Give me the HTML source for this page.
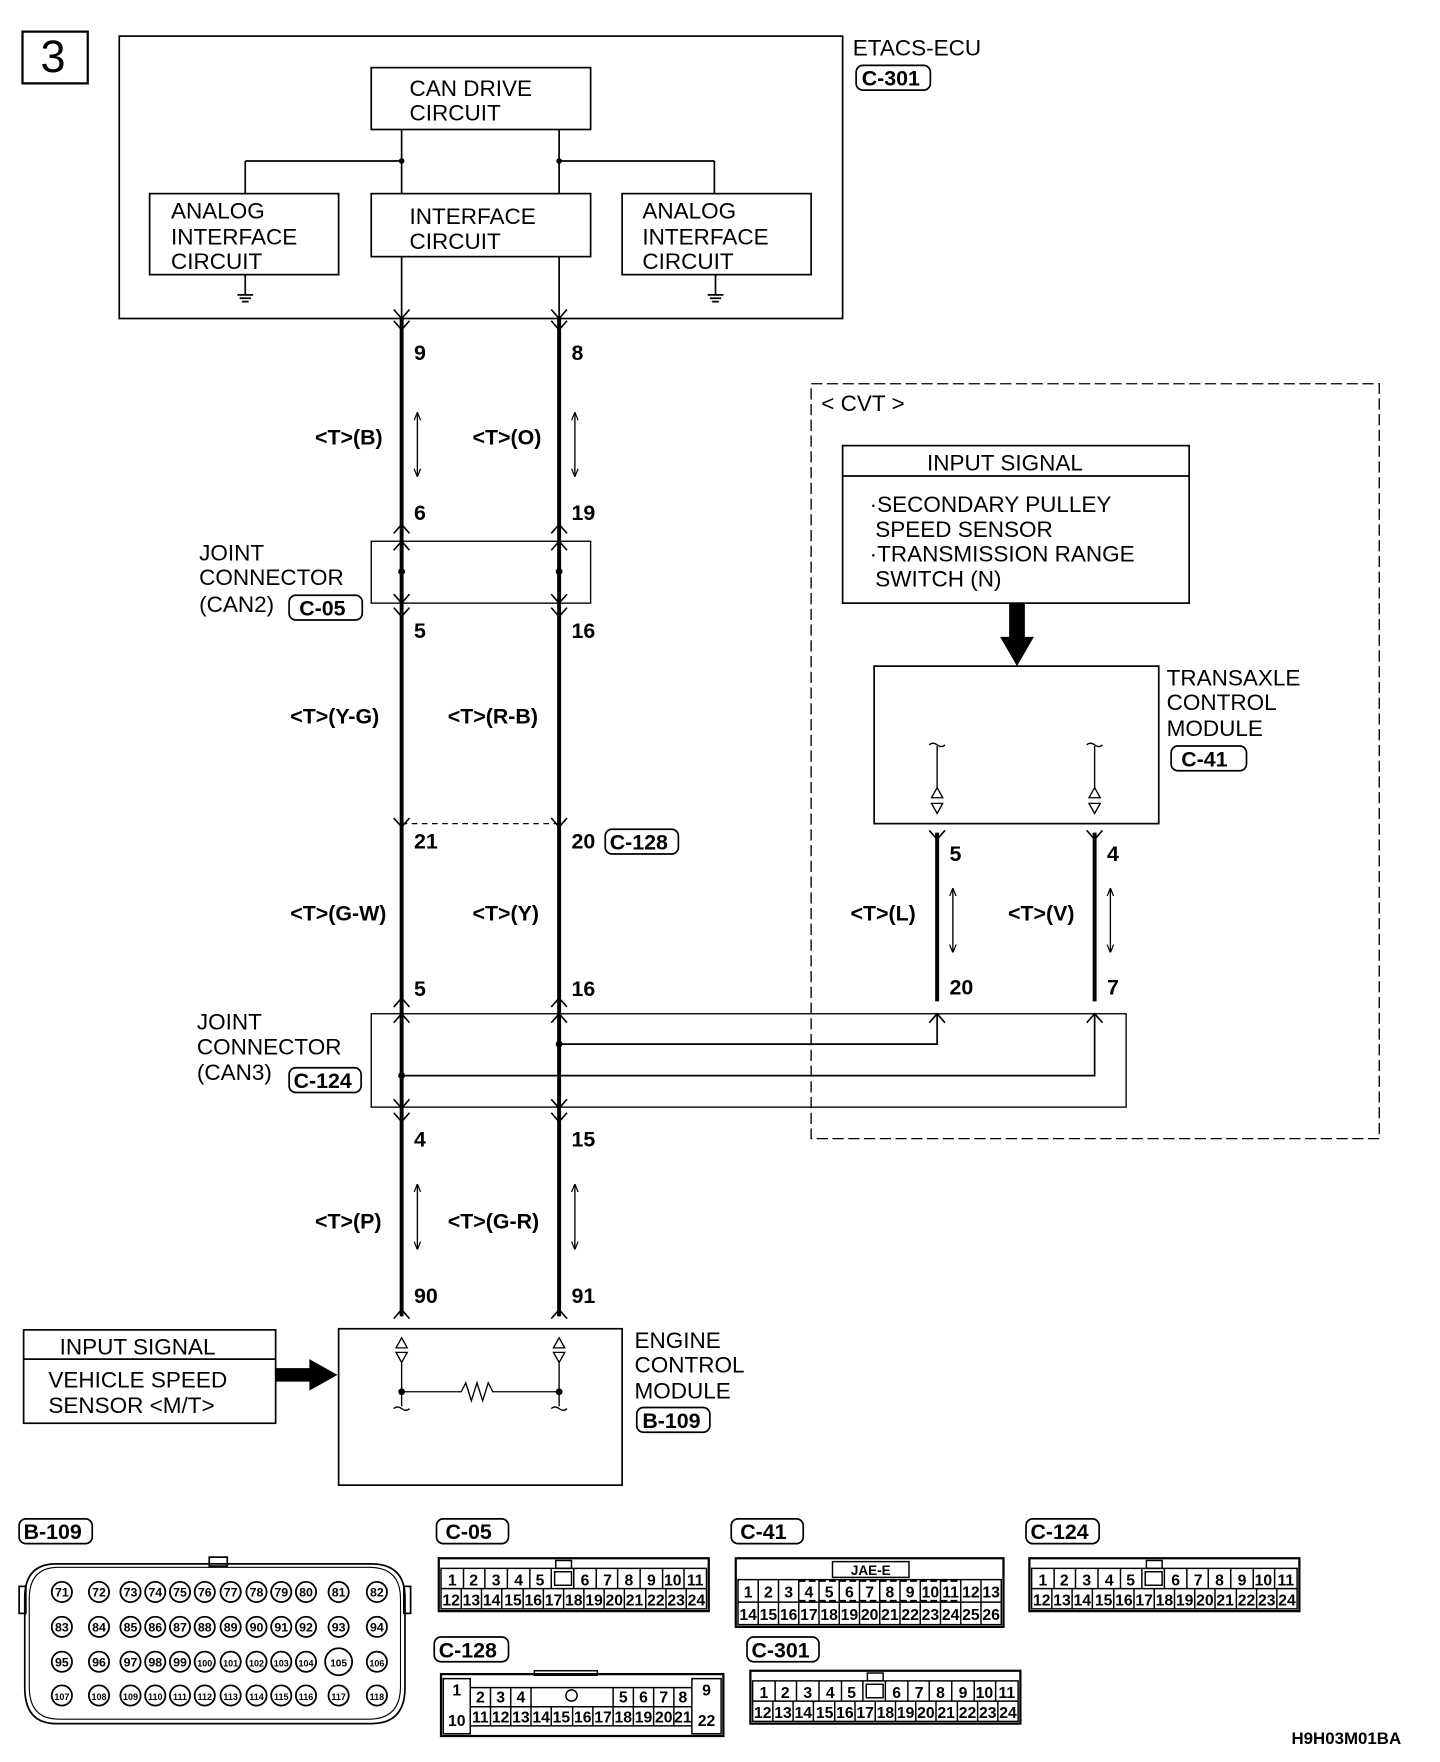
<!DOCTYPE html>
<html><head><meta charset="utf-8"><style>
html,body{margin:0;padding:0;background:#fff}
svg{display:block}
.t{font-family:"Liberation Sans",sans-serif;font-size:20px;fill:#000}
.b{font-family:"Liberation Sans Narrow","Liberation Sans",sans-serif;font-weight:bold;font-size:19px;fill:#000}
.p{font-family:"Liberation Sans Narrow","Liberation Sans",sans-serif;font-weight:bold;font-size:14px;fill:#000;text-anchor:middle}
.c{font-family:"Liberation Sans Narrow","Liberation Sans",sans-serif;font-weight:bold;font-size:12px;fill:#000;text-anchor:middle}
</style></head><body>
<svg width="1440" height="1762" viewBox="0 0 1280 1566" xmlns="http://www.w3.org/2000/svg">
<defs>
<marker id="ah" viewBox="0 0 10 10" refX="9" refY="5" markerWidth="6" markerHeight="8" orient="auto-start-reverse"><path d="M0 1 L10 5 L0 9" fill="none" stroke="#000" stroke-width="1.5"/></marker>
</defs>
<g fill="none" stroke="#000" stroke-width="1.5">
<rect x="20" y="28" width="58" height="46" stroke-width="2"/>
<rect x="106" y="32" width="643" height="251"/>
<rect x="330" y="60" width="195" height="55"/>
<rect x="133" y="172" width="168" height="72"/>
<rect x="330" y="172" width="195" height="56"/>
<rect x="553" y="172" width="168" height="72"/>
<path d="M357 115V172M497 115V172M218 143H357M497 143H635M218 143V172M635 143V172"/>
<path d="M218 244V262M211 262h14M213 265h10M215 268h6M636 244V262M629 262h14M631 265h10M633 268h6"/>
<path d="M357 228V283M497 228V283"/>
</g>
<circle cx="357" cy="143" r="2.5"/><circle cx="497" cy="143" r="2.5"/>
<text class="t" x="36" y="64" style="font-size:40px">3</text>
<text class="t" x="758" y="49">ETACS-ECU</text>
<rect x="761" y="58" width="66" height="22" rx="6" fill="none" stroke="#000" stroke-width="1.5"/>
<text class="b" x="766" y="76">C-301</text>
<text class="t" x="364" y="85">CAN DRIVE</text><text class="t" x="364" y="107">CIRCUIT</text>
<text class="t" x="152" y="194">ANALOG</text><text class="t" x="152" y="217">INTERFACE</text><text class="t" x="152" y="239">CIRCUIT</text>
<text class="t" x="364" y="199">INTERFACE</text><text class="t" x="364" y="221">CIRCUIT</text>
<text class="t" x="571" y="194">ANALOG</text><text class="t" x="571" y="217">INTERFACE</text><text class="t" x="571" y="239">CIRCUIT</text>

<!-- main wires -->
<g stroke="#000" stroke-width="3.5">
<path d="M357 283V1170M497 283V1170M833 740V890M973 740V890"/>
</g>
<!-- chevrons -->
<g fill="none" stroke="#000" stroke-width="1.5">
<path d="M350 275L357 283L364 275M350 285L357 293L364 285M490 275L497 283L504 275M490 285L497 293L504 285"/>
<path d="M350 474L357 466L364 474M350 489L357 481L364 489M490 474L497 466L504 474M490 489L497 481L504 489"/>
<path d="M350 528L357 536L364 528M350 540L357 548L364 540M490 528L497 536L504 528M490 540L497 548L504 540"/>
<path d="M350 727L357 735L364 727M490 727L497 735L504 727"/>
<path d="M350 895L357 887L364 895M350 909L357 901L364 909M490 895L497 887L504 895M490 909L497 901L504 909"/>
<path d="M350 977L357 985L364 977M350 989L357 997L364 989M490 977L497 985L504 977M490 989L497 997L504 989"/>
<path d="M350 1172L357 1164L364 1172M490 1172L497 1164L504 1172"/>
<path d="M826 738L833 746L840 738M966 738L973 746L980 738"/>
<path d="M826 909L833 901L840 909M966 909L973 901L980 909"/>
</g>
<!-- wire labels -->
<text class="b" x="368" y="320">9</text><text class="b" x="508" y="320">8</text>
<text class="b" x="280" y="395">&lt;T&gt;(B)</text><text class="b" x="420" y="395">&lt;T&gt;(O)</text>
<g stroke="#000" stroke-width="1.2" marker-start="url(#ah)" marker-end="url(#ah)">
<line x1="371" y1="367" x2="371" y2="423"/><line x1="511" y1="367" x2="511" y2="423"/>
<line x1="371" y1="1053" x2="371" y2="1110"/><line x1="511" y1="1053" x2="511" y2="1110"/>
<line x1="847" y1="790" x2="847" y2="846"/><line x1="987" y1="790" x2="987" y2="846"/>
</g>
<text class="b" x="368" y="462">6</text><text class="b" x="508" y="462">19</text>
<rect x="330" y="481" width="195" height="55" fill="none" stroke="#000" stroke-width="1.2"/>
<circle cx="357" cy="508" r="3"/><circle cx="497" cy="508" r="3"/>
<text class="t" x="177" y="498">JOINT</text><text class="t" x="177" y="520">CONNECTOR</text><text class="t" x="177" y="544">(CAN2)</text>
<rect x="257" y="529" width="65" height="22" rx="6" fill="none" stroke="#000" stroke-width="1.5"/><text class="b" x="266" y="547">C-05</text>
<text class="b" x="368" y="567">5</text><text class="b" x="508" y="567">16</text>
<text class="b" x="258" y="643">&lt;T&gt;(Y-G)</text><text class="b" x="398" y="643">&lt;T&gt;(R-B)</text>
<line x1="357" y1="732" x2="497" y2="732" stroke="#000" stroke-width="1.2" stroke-dasharray="5,4"/>
<text class="b" x="368" y="754">21</text><text class="b" x="508" y="754">20</text>
<rect x="538" y="737" width="65" height="22" rx="6" fill="none" stroke="#000" stroke-width="1.5"/><text class="b" x="542" y="755">C-128</text>
<text class="b" x="258" y="818">&lt;T&gt;(G-W)</text><text class="b" x="420" y="818">&lt;T&gt;(Y)</text>
<text class="b" x="368" y="885">5</text><text class="b" x="508" y="885">16</text>
<rect x="330" y="901" width="671" height="83" fill="none" stroke="#000" stroke-width="1.2"/>
<path d="M497 928H833V901M357 956H973V901" fill="none" stroke="#000" stroke-width="1.5"/>
<circle cx="497" cy="928" r="3"/><circle cx="357" cy="956" r="3"/>
<text class="t" x="175" y="915">JOINT</text><text class="t" x="175" y="937">CONNECTOR</text><text class="t" x="175" y="960">(CAN3)</text>
<rect x="257" y="949" width="64" height="22" rx="6" fill="none" stroke="#000" stroke-width="1.5"/><text class="b" x="261" y="967">C-124</text>
<text class="b" x="368" y="1019">4</text><text class="b" x="508" y="1019">15</text>
<text class="b" x="280" y="1092">&lt;T&gt;(P)</text><text class="b" x="398" y="1092">&lt;T&gt;(G-R)</text>
<text class="b" x="368" y="1158">90</text><text class="b" x="508" y="1158">91</text>

<!-- ECM -->
<rect x="301" y="1181" width="252" height="139" fill="none" stroke="#000" stroke-width="1.5"/>
<g fill="none" stroke="#000" stroke-width="1.2">
<path d="M352 1198L357 1189L362 1198ZM352 1202L357 1211L362 1202ZM492 1198L497 1189L502 1198ZM492 1202L497 1211L502 1202Z"/>
<path d="M357 1211V1250M497 1211V1250M357 1237H410L414 1229L419 1245L424 1229L429 1245L434 1229L438 1237H497"/>
<path d="M350 1252q3-3 7 0t7 0M490 1252q3-3 7 0t7 0"/>
</g>
<circle cx="357" cy="1237" r="3"/><circle cx="497" cy="1237" r="3"/>
<text class="t" x="564" y="1198">ENGINE</text><text class="t" x="564" y="1220">CONTROL</text><text class="t" x="564" y="1243">MODULE</text>
<rect x="566" y="1251" width="65" height="22" rx="6" fill="none" stroke="#000" stroke-width="1.5"/><text class="b" x="571" y="1269">B-109</text>
<rect x="21" y="1182" width="224" height="83" fill="none" stroke="#000" stroke-width="1.5"/>
<line x1="21" y1="1208" x2="245" y2="1208" stroke="#000" stroke-width="1.5"/>
<text class="t" x="53" y="1204">INPUT SIGNAL</text>
<text class="t" x="43" y="1233">VEHICLE SPEED</text><text class="t" x="43" y="1256">SENSOR &lt;M/T&gt;</text>
<path d="M245 1216H275V1208L300 1222L275 1236V1228H245Z" fill="#000"/>

<!-- CVT -->
<rect x="721" y="341" width="505" height="671" fill="none" stroke="#000" stroke-width="1.2" stroke-dasharray="10,4"/>
<text class="t" x="730" y="365">&lt; CVT &gt;</text>
<rect x="749" y="396" width="308" height="140" fill="none" stroke="#000" stroke-width="1.5"/>
<line x1="749" y1="423" x2="1057" y2="423" stroke="#000" stroke-width="1.5"/>
<text class="t" x="824" y="418">INPUT SIGNAL</text>
<text class="t" x="773" y="455">·SECONDARY PULLEY</text><text class="t" x="778" y="477">SPEED SENSOR</text>
<text class="t" x="773" y="499">·TRANSMISSION RANGE</text><text class="t" x="778" y="521">SWITCH (N)</text>
<path d="M897 536H911V566H919L904 592L889 566H897Z" fill="#000"/>
<rect x="777" y="592" width="253" height="140" fill="none" stroke="#000" stroke-width="1.5"/>
<g fill="none" stroke="#000" stroke-width="1.2">
<path d="M826 662q3-3 7 0t7 0M966 662q3-3 7 0t7 0M833 663V700M973 663V700"/>
<path d="M828 709L833 700L838 709ZM828 714L833 723L838 714ZM968 709L973 700L978 709ZM968 714L973 723L978 714Z"/>
</g>
<text class="t" x="1037" y="609">TRANSAXLE</text><text class="t" x="1037" y="631">CONTROL</text><text class="t" x="1037" y="654">MODULE</text>
<rect x="1041" y="663" width="67" height="22" rx="6" fill="none" stroke="#000" stroke-width="1.5"/><text class="b" x="1050" y="681">C-41</text>
<text class="b" x="844" y="765">5</text><text class="b" x="984" y="765">4</text>
<text class="b" x="756" y="818">&lt;T&gt;(L)</text><text class="b" x="896" y="818">&lt;T&gt;(V)</text>
<text class="b" x="844" y="884">20</text><text class="b" x="984" y="884">7</text>

<!-- connector labels -->
<g fill="none" stroke="#000" stroke-width="1.5">
<rect x="17" y="1350" width="65" height="22" rx="6"/>
<rect x="388" y="1350" width="64" height="22" rx="6"/>
<rect x="386" y="1455" width="66" height="22" rx="6"/>
<rect x="650" y="1350" width="64" height="22" rx="6"/>
<rect x="912" y="1350" width="65" height="22" rx="6"/>
<rect x="664" y="1455" width="64" height="22" rx="6"/>
</g>
<text class="b" x="21" y="1368">B-109</text><text class="b" x="396" y="1368">C-05</text><text class="b" x="390" y="1473">C-128</text>
<text class="b" x="658" y="1368">C-41</text><text class="b" x="916" y="1368">C-124</text><text class="b" x="668" y="1473">C-301</text>

<!-- B-109 -->
<g fill="none" stroke="#000" stroke-width="1.5">
<path d="M50 1390H330Q360 1390 360 1420V1500Q360 1532 330 1532H50Q22 1532 22 1500V1420Q22 1390 50 1390Z"/>
<path d="M52 1393H328Q356 1393 356 1421V1499Q356 1528 328 1528H52Q26 1528 26 1499V1421Q26 1393 52 1393Z" stroke-width="1"/>
<rect x="186" y="1384" width="16" height="8"/>
<rect x="17" y="1410" width="6" height="24"/><rect x="359" y="1410" width="6" height="24"/>
</g>
<g fill="none" stroke="#000" stroke-width="1.6">
<circle cx="55" cy="1415" r="9"/><circle cx="88" cy="1415" r="9"/><circle cx="116" cy="1415" r="9"/><circle cx="138" cy="1415" r="9"/><circle cx="160" cy="1415" r="9"/><circle cx="182" cy="1415" r="9"/><circle cx="205" cy="1415" r="9"/><circle cx="228" cy="1415" r="9"/><circle cx="250" cy="1415" r="9"/><circle cx="272" cy="1415" r="9"/><circle cx="301" cy="1415" r="9"/><circle cx="335" cy="1415" r="9"/>
<circle cx="55" cy="1446" r="9"/><circle cx="88" cy="1446" r="9"/><circle cx="116" cy="1446" r="9"/><circle cx="138" cy="1446" r="9"/><circle cx="160" cy="1446" r="9"/><circle cx="182" cy="1446" r="9"/><circle cx="205" cy="1446" r="9"/><circle cx="228" cy="1446" r="9"/><circle cx="250" cy="1446" r="9"/><circle cx="272" cy="1446" r="9"/><circle cx="301" cy="1446" r="9"/><circle cx="335" cy="1446" r="9"/>
<circle cx="55" cy="1477" r="9"/><circle cx="88" cy="1477" r="9"/><circle cx="116" cy="1477" r="9"/><circle cx="138" cy="1477" r="9"/><circle cx="160" cy="1477" r="9"/><circle cx="182" cy="1477" r="9"/><circle cx="205" cy="1477" r="9"/><circle cx="228" cy="1477" r="9"/><circle cx="250" cy="1477" r="9"/><circle cx="272" cy="1477" r="9"/><circle cx="301" cy="1477" r="12"/><circle cx="335" cy="1477" r="9"/>
<circle cx="55" cy="1507" r="9"/><circle cx="88" cy="1507" r="9"/><circle cx="116" cy="1507" r="9"/><circle cx="138" cy="1507" r="9"/><circle cx="160" cy="1507" r="9"/><circle cx="182" cy="1507" r="9"/><circle cx="205" cy="1507" r="9"/><circle cx="228" cy="1507" r="9"/><circle cx="250" cy="1507" r="9"/><circle cx="272" cy="1507" r="9"/><circle cx="301" cy="1507" r="9"/><circle cx="335" cy="1507" r="9"/>
</g>
<g class="c" style="font-size:11px">
<text x="55" y="1419">71</text><text x="88" y="1419">72</text><text x="116" y="1419">73</text><text x="138" y="1419">74</text><text x="160" y="1419">75</text><text x="182" y="1419">76</text><text x="205" y="1419">77</text><text x="228" y="1419">78</text><text x="250" y="1419">79</text><text x="272" y="1419">80</text><text x="301" y="1419">81</text><text x="335" y="1419">82</text>
<text x="55" y="1450">83</text><text x="88" y="1450">84</text><text x="116" y="1450">85</text><text x="138" y="1450">86</text><text x="160" y="1450">87</text><text x="182" y="1450">88</text><text x="205" y="1450">89</text><text x="228" y="1450">90</text><text x="250" y="1450">91</text><text x="272" y="1450">92</text><text x="301" y="1450">93</text><text x="335" y="1450">94</text>
<text x="55" y="1481">95</text><text x="88" y="1481">96</text><text x="116" y="1481">97</text><text x="138" y="1481">98</text><text x="160" y="1481">99</text><text x="182" y="1481" style="font-size:8px">100</text><text x="205" y="1481" style="font-size:8px">101</text><text x="228" y="1481" style="font-size:8px">102</text><text x="250" y="1481" style="font-size:8px">103</text><text x="272" y="1481" style="font-size:8px">104</text><text x="301" y="1481" style="font-size:9px">105</text><text x="335" y="1481" style="font-size:8px">106</text>
<text x="55" y="1511" style="font-size:8px">107</text><text x="88" y="1511" style="font-size:8px">108</text><text x="116" y="1511" style="font-size:8px">109</text><text x="138" y="1511" style="font-size:8px">110</text><text x="160" y="1511" style="font-size:8px">111</text><text x="182" y="1511" style="font-size:8px">112</text><text x="205" y="1511" style="font-size:8px">113</text><text x="228" y="1511" style="font-size:8px">114</text><text x="250" y="1511" style="font-size:8px">115</text><text x="272" y="1511" style="font-size:8px">116</text><text x="301" y="1511" style="font-size:8px">117</text><text x="335" y="1511" style="font-size:8px">118</text>
</g>

<!-- C-05 -->
<g fill="none" stroke="#000" stroke-width="1.3">
<rect x="390" y="1385" width="240" height="47" stroke-width="2"/>
<rect x="392" y="1394" width="236" height="36"/>
<path d="M392 1412H628"/>
<path d="M412 1394v18M431 1394v18M451 1394v18M471 1394v18M490 1394v18M510 1394v18M530 1394v18M549 1394v18M569 1394v18M589 1394v18M608 1394v18"/>
<path d="M410 1412v18M428 1412v18M446 1412v18M465 1412v18M483 1412v18M501 1412v18M519 1412v18M537 1412v18M555 1412v18M574 1412v18M592 1412v18M610 1412v18"/>
<rect x="493" y="1397" width="15" height="12"/><rect x="494" y="1387" width="14" height="7"/>
</g>
<g class="p">
<text x="402" y="1409">1</text><text x="421" y="1409">2</text><text x="441" y="1409">3</text><text x="461" y="1409">4</text><text x="480" y="1409">5</text><text x="520" y="1409">6</text><text x="540" y="1409">7</text><text x="559" y="1409">8</text><text x="579" y="1409">9</text><text x="598" y="1409">10</text><text x="618" y="1409">11</text>
<text x="401" y="1427">12</text><text x="419" y="1427">13</text><text x="437" y="1427">14</text><text x="456" y="1427">15</text><text x="474" y="1427">16</text><text x="492" y="1427">17</text><text x="510" y="1427">18</text><text x="528" y="1427">19</text><text x="546" y="1427">20</text><text x="564" y="1427">21</text><text x="583" y="1427">22</text><text x="601" y="1427">23</text><text x="619" y="1427">24</text>
</g>

<!-- C-124 -->
<g fill="none" stroke="#000" stroke-width="1.3">
<rect x="915" y="1385" width="240" height="47" stroke-width="2"/>
<rect x="917" y="1394" width="236" height="36"/>
<path d="M917 1412H1153"/>
<path d="M937 1394v18M956 1394v18M976 1394v18M996 1394v18M1015 1394v18M1035 1394v18M1055 1394v18M1074 1394v18M1094 1394v18M1114 1394v18M1133 1394v18"/>
<path d="M935 1412v18M953 1412v18M971 1412v18M990 1412v18M1008 1412v18M1026 1412v18M1044 1412v18M1062 1412v18M1080 1412v18M1099 1412v18M1117 1412v18M1135 1412v18"/>
<rect x="1018" y="1397" width="15" height="12"/><rect x="1019" y="1387" width="14" height="7"/>
</g>
<g class="p">
<text x="927" y="1409">1</text><text x="946" y="1409">2</text><text x="966" y="1409">3</text><text x="986" y="1409">4</text><text x="1005" y="1409">5</text><text x="1045" y="1409">6</text><text x="1065" y="1409">7</text><text x="1084" y="1409">8</text><text x="1104" y="1409">9</text><text x="1123" y="1409">10</text><text x="1143" y="1409">11</text>
<text x="926" y="1427">12</text><text x="944" y="1427">13</text><text x="962" y="1427">14</text><text x="981" y="1427">15</text><text x="999" y="1427">16</text><text x="1017" y="1427">17</text><text x="1035" y="1427">18</text><text x="1053" y="1427">19</text><text x="1071" y="1427">20</text><text x="1089" y="1427">21</text><text x="1108" y="1427">22</text><text x="1126" y="1427">23</text><text x="1144" y="1427">24</text>
</g>

<!-- C-301 -->
<g fill="none" stroke="#000" stroke-width="1.3">
<rect x="667" y="1485" width="240" height="47" stroke-width="2"/>
<rect x="669" y="1494" width="236" height="36"/>
<path d="M669 1512H905"/>
<path d="M689 1494v18M708 1494v18M728 1494v18M748 1494v18M767 1494v18M787 1494v18M807 1494v18M826 1494v18M846 1494v18M866 1494v18M885 1494v18"/>
<path d="M687 1512v18M705 1512v18M723 1512v18M742 1512v18M760 1512v18M778 1512v18M796 1512v18M814 1512v18M832 1512v18M851 1512v18M869 1512v18M887 1512v18"/>
<rect x="770" y="1497" width="15" height="12"/><rect x="771" y="1487" width="14" height="7"/>
</g>
<g class="p">
<text x="679" y="1509">1</text><text x="698" y="1509">2</text><text x="718" y="1509">3</text><text x="738" y="1509">4</text><text x="757" y="1509">5</text><text x="797" y="1509">6</text><text x="817" y="1509">7</text><text x="836" y="1509">8</text><text x="856" y="1509">9</text><text x="875" y="1509">10</text><text x="895" y="1509">11</text>
<text x="678" y="1527">12</text><text x="696" y="1527">13</text><text x="714" y="1527">14</text><text x="733" y="1527">15</text><text x="751" y="1527">16</text><text x="769" y="1527">17</text><text x="787" y="1527">18</text><text x="805" y="1527">19</text><text x="823" y="1527">20</text><text x="841" y="1527">21</text><text x="860" y="1527">22</text><text x="878" y="1527">23</text><text x="896" y="1527">24</text>
</g>

<!-- C-41 -->
<g fill="none" stroke="#000" stroke-width="1.3">
<rect x="654" y="1385" width="238" height="61" stroke-width="2"/>
<rect x="740" y="1388" width="68" height="14"/>
<rect x="656" y="1404" width="234" height="40"/>
<path d="M656 1424H890"/>
<path d="M674 1404v40M692 1404v40M710 1404v40M728 1404v40M746 1404v40M764 1404v40M782 1404v40M800 1404v40M818 1404v40M836 1404v40M854 1404v40M872 1404v40"/>
<path d="M710 1405H854M710 1423H854" stroke-dasharray="6,3" stroke-width="2"/>
</g>
<text class="c" x="774" y="1400">JAE-E</text>
<g class="p">
<text x="665" y="1420">1</text><text x="683" y="1420">2</text><text x="701" y="1420">3</text><text x="719" y="1420">4</text><text x="737" y="1420">5</text><text x="755" y="1420">6</text><text x="773" y="1420">7</text><text x="791" y="1420">8</text><text x="809" y="1420">9</text><text x="827" y="1420">10</text><text x="845" y="1420">11</text><text x="863" y="1420">12</text><text x="881" y="1420">13</text>
<text x="665" y="1440">14</text><text x="683" y="1440">15</text><text x="701" y="1440">16</text><text x="719" y="1440">17</text><text x="737" y="1440">18</text><text x="755" y="1440">19</text><text x="773" y="1440">20</text><text x="791" y="1440">21</text><text x="809" y="1440">22</text><text x="827" y="1440">23</text><text x="845" y="1440">24</text><text x="863" y="1440">25</text><text x="881" y="1440">26</text>
</g>

<!-- C-128 -->
<g fill="none" stroke="#000" stroke-width="1.3">
<rect x="392" y="1488" width="251" height="55" stroke-width="2"/>
<rect x="475" y="1485" width="56" height="4"/>
<path d="M394 1492H418V1541H394ZM418 1500H615V1534H418ZM615 1492H641V1541H615Z"/>
<path d="M418 1517H615M436 1500v17M454 1500v17M472 1500v34M545 1500v34M563 1500v17M581 1500v17M599 1500v17"/>
<path d="M436 1517v17M454 1517v17M490 1517v17M509 1517v17M527 1517v17M563 1517v17M581 1517v17M599 1517v17"/>
<circle cx="508" cy="1507" r="5"/>
</g>
<g class="p">
<text x="406" y="1507">1</text><text x="427" y="1513">2</text><text x="445" y="1513">3</text><text x="463" y="1513">4</text><text x="554" y="1513">5</text><text x="572" y="1513">6</text><text x="590" y="1513">7</text><text x="607" y="1513">8</text><text x="628" y="1507">9</text>
<text x="406" y="1534">10</text><text x="427" y="1531">11</text><text x="445" y="1531">12</text><text x="463" y="1531">13</text><text x="481" y="1531">14</text><text x="499" y="1531">15</text><text x="518" y="1531">16</text><text x="536" y="1531">17</text><text x="554" y="1531">18</text><text x="572" y="1531">19</text><text x="590" y="1531">20</text><text x="607" y="1531">21</text><text x="628" y="1534">22</text>
</g>

<text class="b" x="1148" y="1550" style="font-size:15px">H9H03M01BA</text>
</svg>
</body></html>
